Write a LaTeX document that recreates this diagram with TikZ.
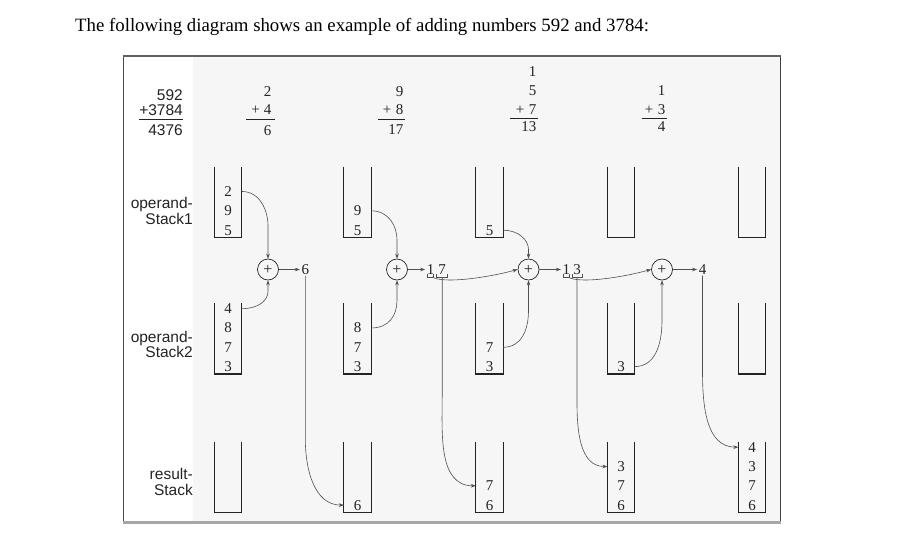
\documentclass[tikz,border=0pt]{standalone}
\usepackage{fontspec}
\setmainfont{Liberation Serif}
\newfontfamily\labfont{Liberation Sans}
\usetikzlibrary{arrows.meta,calc}
\definecolor{scanbg}{RGB}{246,246,246}
\definecolor{wire}{RGB}{80,80,80}
\definecolor{ink}{RGB}{35,35,35}
\begin{document}
\begin{tikzpicture}[x=1pt,y=1pt,
  stk/.style={minimum width=27.3pt, minimum height=71pt, inner sep=0pt, outer sep=0pt},
  dig/.style={font=\fontsize{15}{15}\selectfont, inner sep=0pt, anchor=base, text=ink},
  outd/.style={dig, inner sep=1.5pt},
  lab/.style={font=\labfont\fontsize{15.5}{13.6}\selectfont, inner sep=0pt, anchor=base east, text=ink},
  lab2/.style={lab, align=right},
  sumd/.style={font=\fontsize{15}{15}\selectfont, inner sep=0pt, anchor=base east, text=ink},
  plus/.style={circle, draw=ink, line width=0.7pt, minimum size=21pt, inner sep=0pt, font=\fontsize{16}{16}\selectfont, text=ink},
  arr/.style={draw=wire, line width=0.6pt, -{Stealth[length=5pt,width=3.6pt]}},
  wirel/.style={draw=wire, line width=0.6pt},
  stackline/.style={draw=ink, line width=1.2pt},
  sumline/.style={draw=ink, line width=0.7pt},
]
\useasboundingbox (0,0) rectangle (901,-552);

% title
\node[anchor=base west, inner sep=0pt, font=\fontsize{18.8}{18.8}\selectfont] (title) at (75,-31)
  {The following diagram shows an example of adding numbers 592 and 3784:};

% frame
\fill[scanbg] (193,-57) rectangle (779.5,-521);
\draw[line width=0.8pt, black!70] (123.3,-56) -- (123.3,-522);
\draw[line width=0.8pt, black!75] (780,-56) -- (780,-522);
\draw[line width=2pt, black!62] (122.5,-56) -- (780.5,-56);
\draw[line width=2.5pt, black!35] (122.5,-522.5) -- (780.5,-522.5);

% left labels
\node[lab] (n592) at (183,-100) {592};
\node[lab] (n3784) at (183,-115) {+3784};
\draw[line width=0.9pt, ink] ([yshift=-4pt]n3784.base west) -- ([yshift=-4pt]n3784.base east);
\node[lab] (n4376) at (183,-135) {4376};
\node[lab2] (l1) at (193,-224.3) {operand-\\Stack1};
\node[lab2] (l2) at (193,-357.7) {operand-\\Stack2};
\node[lab2, font=\labfont\fontsize{15.5}{15.5}\selectfont] (l3) at (193,-495) {result-\\Stack};

% column sums
\node[sumd] (s1a) at (271.5,-96.7) {2};
\node[sumd] (s1p) at (260,-114.3) {+};
\node[sumd] (s1b) at (271.5,-114.3) {4};
\draw[sumline] (246,-119.2) -- (275,-119.2);
\node[sumd] (s1r) at (271.5,-135) {6};

\node[sumd] (s2a) at (403.5,-96.7) {9};
\node[sumd] (s2p) at (391.5,-114.3) {+};
\node[sumd] (s2b) at (403.5,-114.3) {8};
\draw[sumline] (378,-119.2) -- (405,-119.2);
\node[sumd] (s2r) at (403.5,-134) {17};

\node[sumd] (s3c) at (536.5,-76.7) {1};
\node[sumd] (s3a) at (536.5,-95) {5};
\node[sumd] (s3p) at (524.5,-114) {+};
\node[sumd] (s3b) at (536.5,-114) {7};
\draw[sumline] (510,-118.7) -- (537.5,-118.7);
\node[sumd] (s3r) at (536.5,-131.7) {13};

\node[sumd] (s4c) at (665.5,-95) {1};
\node[sumd] (s4p) at (653.5,-114) {+};
\node[sumd] (s4b) at (665.5,-114) {3};
\draw[sumline] (641.7,-118.7) -- (666.5,-118.7);
\node[sumd] (s4r) at (665.5,-131.7) {4};

% stacks
\foreach \c/\x in {1/228,2/357.5,3/489.5,4/621,5/752} {
  \node[stk] (a\c) at (\x,-202) {};
  \node[stk] (b\c) at (\x,-338.5) {};
  \node[stk] (r\c) at (\x,-477) {};
  \foreach \s in {a,b,r}
    \draw[stackline] (\s\c.north west) -- (\s\c.south west) -- (\s\c.south east) -- (\s\c.north east);
}

% operandStack1 contents
\node[dig] (a1k0) at (228,-235) {5};
\node[dig] (a1k1) at (228,-215.7) {9};
\node[dig] (a1k2) at (228,-196.4) {2};
\node[dig] (a2k0) at (357.5,-235) {5};
\node[dig] (a2k1) at (357.5,-215.7) {9};
\node[dig] (a3k0) at (489.5,-235) {5};

% operandStack2 contents
\node[dig] (b1k0) at (228,-371.5) {3};
\node[dig] (b1k1) at (228,-352.2) {7};
\node[dig] (b1k2) at (228,-332.9) {8};
\node[dig] (b1k3) at (228,-313.6) {4};
\node[dig] (b2k0) at (357.5,-371.5) {3};
\node[dig] (b2k1) at (357.5,-352.2) {7};
\node[dig] (b2k2) at (357.5,-332.9) {8};
\node[dig] (b3k0) at (489.5,-371.5) {3};
\node[dig] (b3k1) at (489.5,-352.2) {7};
\node[dig] (b4k0) at (621,-371.5) {3};

% resultStack contents
\node[dig] (r2k0) at (357.5,-510) {6};
\node[dig] (r3k0) at (489.5,-510) {6};
\node[dig] (r3k1) at (489.5,-490.7) {7};
\node[dig] (r4k0) at (621,-510) {6};
\node[dig] (r4k1) at (621,-490.7) {7};
\node[dig] (r4k2) at (621,-471.4) {3};
\node[dig] (r5k0) at (752,-510) {6};
\node[dig] (r5k1) at (752,-490.7) {7};
\node[dig] (r5k2) at (752,-471.4) {3};
\node[dig] (r5k3) at (752,-452.1) {4};

% adders
\node[plus] (p1) at (268,-269.5) {+};
\node[plus] (p2) at (397,-269.5) {+};
\node[plus] (p3) at (528.5,-269.5) {+};
\node[plus] (p4) at (662,-269.5) {+};

% outputs
\node[outd] (o1) at (305.3,-274) {6};
\node[outd] (o2a) at (430.6,-274) {1};
\node[outd] (o2b) at (442.2,-274) {7};
\node[outd] (o3a) at (566.3,-274) {1};
\node[outd] (o3b) at (577,-274) {3};
\node[outd] (o4) at (702.5,-274) {4};

% brackets under two-digit results
\draw[wirel] ([xshift=-3pt,yshift=-0.3pt]o2a.base) -- ++(0,-2.7) -- ++(6,0) -- ++(0,2.7);
\draw[wirel] ([xshift=-5.5pt,yshift=-0.3pt]o2b.base) -- ++(0,-2.7) -- ++(11,0) -- ++(0,2.7);
\draw[wirel] ([xshift=-3pt,yshift=-0.3pt]o3a.base) -- ++(0,-2.7) -- ++(6,0) -- ++(0,2.7);
\draw[wirel] ([xshift=-5pt,yshift=-0.3pt]o3b.base) -- ++(0,-2.7) -- ++(10,0) -- ++(0,2.7);
\coordinate (q2a) at ([xshift=1.5pt,yshift=-3pt]o2a.base);
\coordinate (q2b) at ([yshift=-3pt]o2b.base);
\coordinate (q3a) at ([xshift=1.5pt,yshift=-3pt]o3a.base);
\coordinate (q3b) at ([yshift=-3pt]o3b.base);

% operand 1 into adders
\draw[arr] (a1.east |- a1k2) .. controls +(19,0) and +(0,14) .. ([yshift=33pt]p1.north) -- (p1.north);
\draw[arr] (a2.east |- a2k1) .. controls +(18,0) and +(0,13) .. ([yshift=19pt]p2.north) -- (p2.north);
\draw[arr] (a3.east |- a3k0) .. controls +(15,0) and +(0,10) .. ([yshift=9pt]p3.north) -- (p3.north);

% operand 2 into adders
\draw[arr] (b1.east |- b1k3) .. controls +(17,0) and +(0,-9) .. ([yshift=-11pt]p1.south) -- (p1.south);
\draw[arr] (b2.east |- b2k2) .. controls +(18,0) and +(0,-15) .. ([yshift=-20pt]p2.south) -- (p2.south);
\draw[arr] (b3.east |- b3k1) .. controls +(18,0) and +(0,-20) .. ([yshift=-30pt]p3.south) -- (p3.south);
\draw[arr] (b4.east |- b4k0) .. controls +(20,0) and +(0,-25) .. ([yshift=-40pt]p4.south) -- (p4.south);

% adder outputs
\draw[arr] (p1.east) -- (p1.east -| o1.west);
\draw[arr] (p2.east) -- (p2.east -| o2a.west);
\draw[arr] (p3.east) -- (p3.east -| o3a.west);
\draw[arr] (p4.east) -- (p4.east -| o4.west);

% carries
\draw[arr] (q2a) .. controls +(12,-7) and +(-30,-8) .. (p3.west);
\draw[arr] (q3a) .. controls +(12,-7) and +(-30,-8) .. (p4.west);

% digits pushed to result stack
\draw[arr] (o1.south) -- ++(0,-163) to[out=-90,in=180] (r2.west |- r2k0);
\draw[arr] (q2b) -- ++(0,-118) to[out=-90,in=180] (r3.west |- r3k1);
\draw[arr] (q3b) -- ++(0,-125) to[out=-90,in=180] (r4.west |- r4k2);
\draw[arr] (o4.south) -- ++(0,-95) to[out=-90,in=180] (r5.west |- r5k3);
\end{tikzpicture}
\end{document}
